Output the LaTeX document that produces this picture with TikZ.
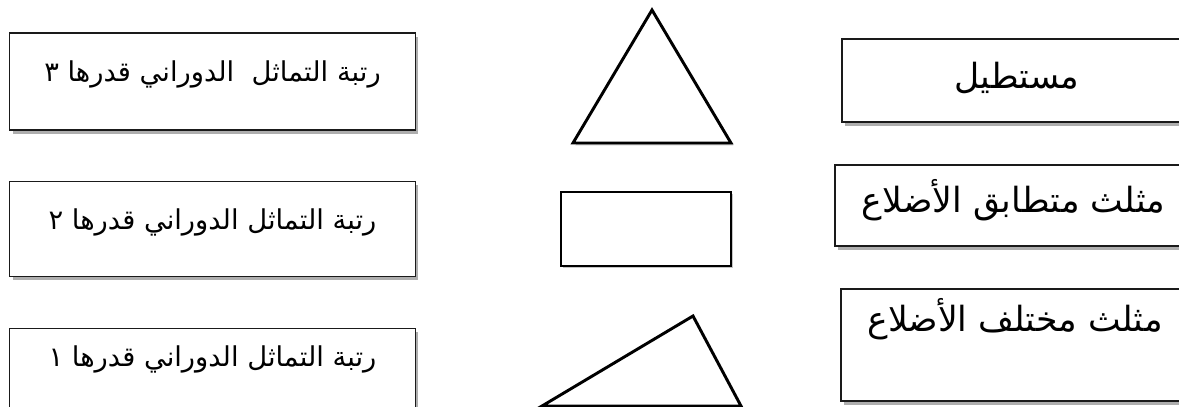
\documentclass[tikz,border=0pt]{standalone}
\usepackage{fontspec}
\usepackage{tikz}
\usetikzlibrary{positioning,shadows}
\TeXXeTstate=1
\newfontfamily\arabicfont[Script=Arabic]{DejaVu Sans}
\definecolor{ink}{HTML}{1A1A1A}
\definecolor{shade}{HTML}{8C8C8C}

\begin{document}
\begin{tikzpicture}[x=0.75pt,y=-0.75pt,
  node distance=38pt,
  card/.style={draw=ink,line width=0.8pt,fill=white,inner sep=0pt,
    drop shadow={shadow xshift=2.2pt,shadow yshift=-2.8pt,fill=shade,opacity=.7}},
  word/.style={font=\arabicfont\fontsize{20.5}{24}\selectfont,inner sep=0pt},
  bigword/.style={font=\arabicfont\fontsize{26}{30}\selectfont,inner sep=0pt},
  figure/.style={draw=black,line width=2.2pt,line join=miter,fill=white,
    drop shadow={shadow xshift=1.8pt,shadow yshift=-1.8pt,fill=shade,opacity=.5}}]
\useasboundingbox (0,0) rectangle (1179,407);
\clip (0,0) rectangle (1179,407);
\node[card,minimum width=304pt,minimum height=72.75pt] (ord3) at (212.5,81.5) {};
\node[card,minimum width=304pt,minimum height=71.25pt,below=of ord3] (ord2) {};
\node[card,minimum width=304pt,minimum height=72.75pt,below=of ord2] (ord1) {};
\node[card,minimum width=268.5pt,minimum height=62.25pt] (rect) at (1021,80.5) {};
\node[card,minimum width=273.75pt,minimum height=60.75pt] (equi) at (1017.5,205.5) {};
\node[card,minimum width=269.25pt,minimum height=84pt] (scal) at (1020.5,345) {};
\node[word] (t3) at ([yshift=5pt]ord3.center) {\beginR رتبة التماثل\ \ الدوراني قدرها ٣\endR};
\node[word] (t2) at ([yshift=5pt]ord2.center) {\beginR رتبة التماثل الدوراني قدرها ٢\endR};
\node[word] (t1) at ([yshift=-24pt]ord1.north) {\beginR رتبة التماثل الدوراني قدرها ١\endR};
\node[bigword] (tr) at ([xshift=-3pt,yshift=2pt]rect.center) {\beginR مستطيل\endR};
\node[bigword] (te) at ([xshift=-3pt,yshift=4pt]equi.center) {\beginR مثلث متطابق الأضلاع\endR};
\node[bigword] (ts) at ([xshift=-4pt,yshift=-23pt]scal.north) {\beginR مثلث مختلف الأضلاع\endR};
\draw[figure] (652,10) -- (731,143) -- (573,143) -- cycle;
\draw[figure] (561,192) rectangle (731,266);
\draw[figure] (693,316) -- (741,406) -- (542,406) -- cycle;
\end{tikzpicture}
\end{document}
